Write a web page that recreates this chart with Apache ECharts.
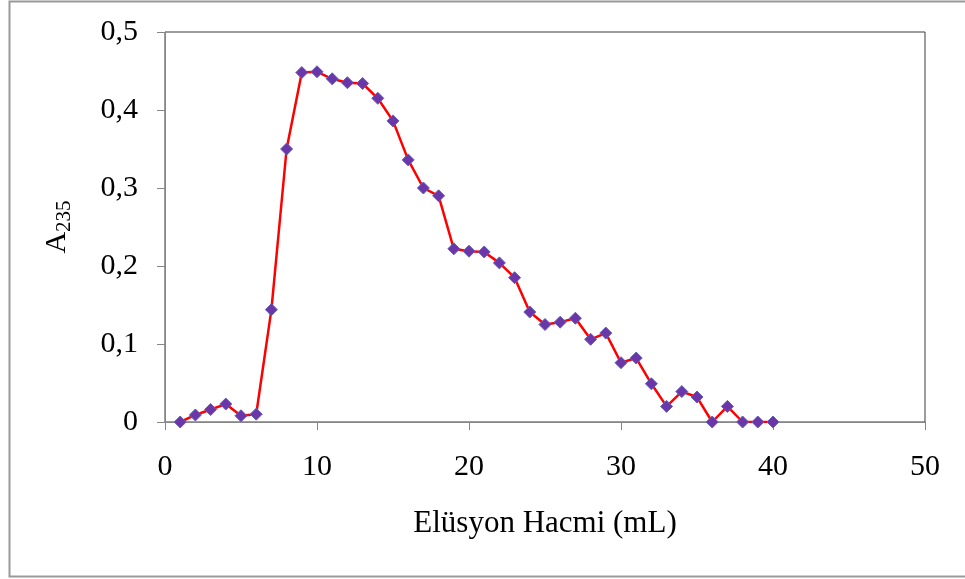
<!DOCTYPE html>
<html>
<head>
<meta charset="utf-8">
<script src="https://cdn.jsdelivr.net/npm/echarts@6/dist/echarts.min.js"></script>
<style>
  html, body { margin: 0; padding: 0; background: #fff; }
  #chart { width: 965px; height: 579px; }
</style>
</head>
<body>
<div id="chart"></div>
<script>
// fraction volume (mL) and absorbance at 235 nm
const volumes = [1, 2, 3, 4, 5, 6, 7, 8, 9, 10, 11, 12, 13, 14, 15, 16, 17, 18, 19, 20,
  21, 22, 23, 24, 25, 26, 27, 28, 29, 30, 31, 32, 33, 34, 35, 36, 37, 38, 39, 40];
const absorbance = [0, 0.009, 0.016, 0.023, 0.008, 0.010, 0.144, 0.350, 0.448, 0.449,
  0.440, 0.435, 0.434, 0.415, 0.386, 0.336, 0.300, 0.290, 0.222, 0.219,
  0.218, 0.204, 0.185, 0.141, 0.125, 0.128, 0.133, 0.106, 0.114, 0.076,
  0.082, 0.049, 0.020, 0.039, 0.032, 0, 0.020, 0, 0, 0];
const xTicks = [0, 10, 20, 30, 40, 50];
const yTicks = [0, 0.1, 0.2, 0.3, 0.4, 0.5];

const chart = echarts.init(document.getElementById('chart'));
const serif = '"Liberation Serif", "DejaVu Serif", serif';

chart.setOption({
  backgroundColor: '#fff',
  animation: false,
  graphic: [{
    type: 'rect',
    shape: { x: 9.5, y: 1.5, width: 970, height: 575 },
    style: { fill: 'none', stroke: '#9a9a9a', lineWidth: 2 },
    silent: true
  }],
  grid: {
    left: 165, top: 32, right: 40, bottom: 157,
    show: true, borderColor: '#3a3a3a', borderWidth: 1, backgroundColor: 'transparent'
  },
  xAxis: {
    type: 'value',
    min: xTicks[0], max: xTicks[xTicks.length - 1], interval: 10,
    name: 'Elüsyon Hacmi (mL)',
    nameLocation: 'middle', nameGap: 86,
    nameTextStyle: { fontFamily: serif, fontSize: 31, color: '#000' },
    axisLine: { lineStyle: { color: '#868686', width: 1 } },
    axisTick: { inside: false, length: 8, lineStyle: { color: '#868686' } },
    axisLabel: { fontFamily: serif, fontSize: 30, color: '#000', margin: 30 },
    splitLine: { show: false }
  },
  yAxis: {
    type: 'value',
    min: yTicks[0], max: yTicks[yTicks.length - 1], interval: 0.1,
    name: '{a|A}{s|235}',
    nameLocation: 'middle', nameGap: 90, nameRotate: 90,
    nameTextStyle: {
      rich: {
        a: { fontFamily: serif, fontSize: 30, color: '#000' },
        s: { fontFamily: serif, fontSize: 21, color: '#000', padding: [14, 0, 0, 0] }
      }
    },
    axisLine: { show: true, lineStyle: { color: '#868686', width: 1 } },
    axisTick: { show: true, inside: false, length: 8, lineStyle: { color: '#868686' } },
    axisLabel: {
      fontFamily: serif, fontSize: 30, color: '#000', margin: 27,
      formatter: v => (v === 0 ? '0' : v.toFixed(1).replace('.', ','))
    },
    splitLine: { show: false }
  },
  series: [{
    type: 'line',
    data: volumes.map((v, i) => [v, absorbance[i]]),
    symbol: 'diamond',
    symbolSize: 12,
    itemStyle: { color: '#6a36a8', borderColor: '#6060b8', borderWidth: 1 },
    lineStyle: { color: '#ff0000', width: 2.5 },
    z: 3
  }]
});
</script>
</body>
</html>
